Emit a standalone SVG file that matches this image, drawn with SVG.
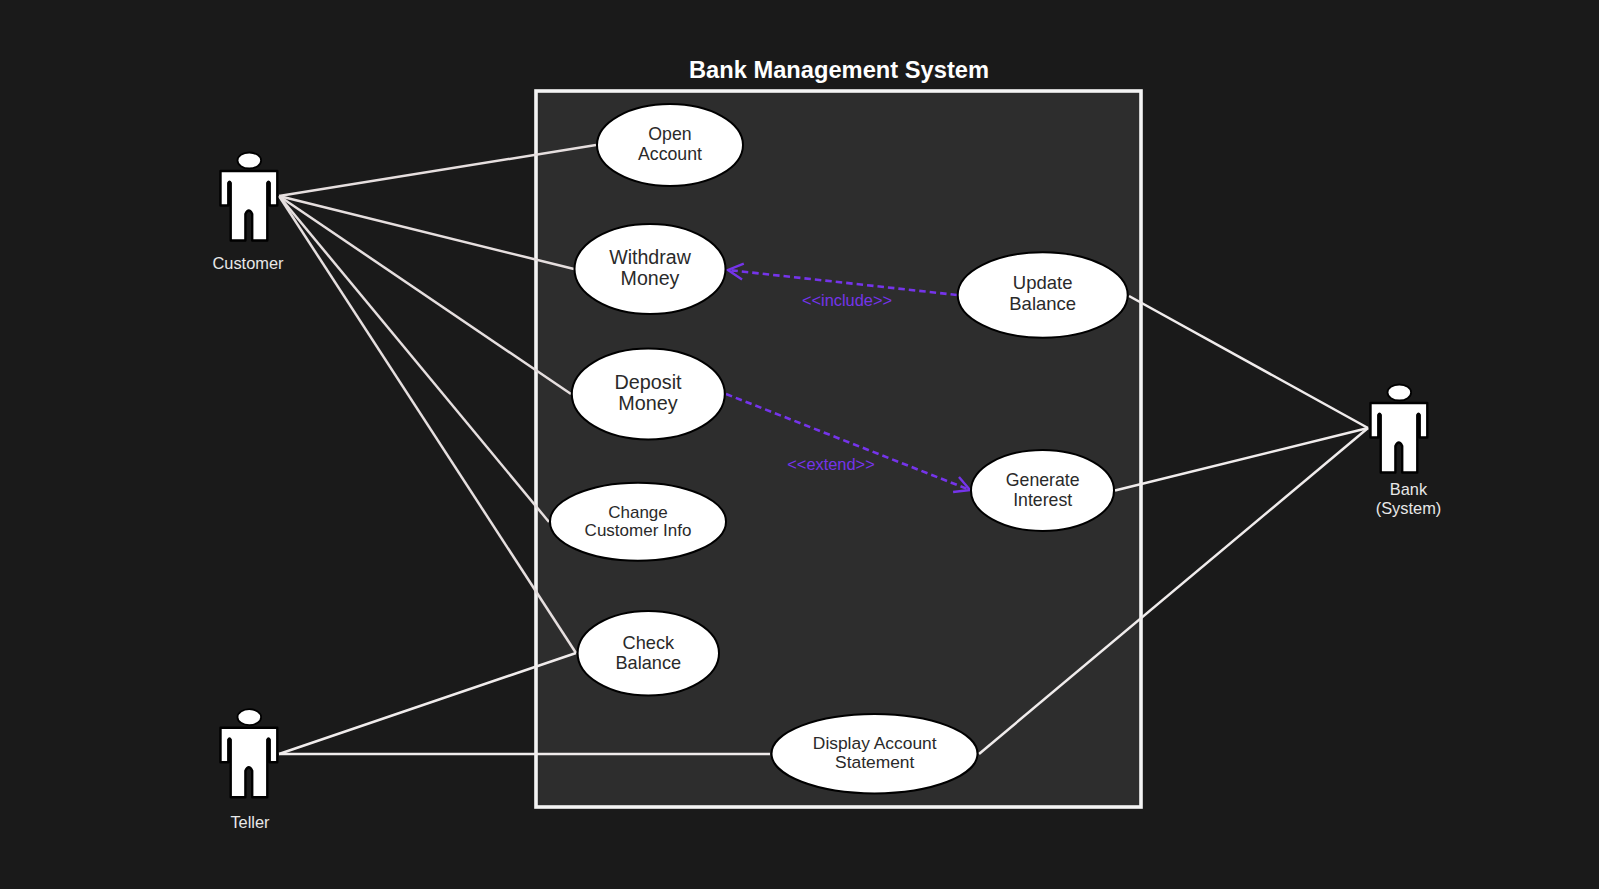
<svg xmlns="http://www.w3.org/2000/svg" xmlns:xlink="http://www.w3.org/1999/xlink" width="1599" height="889" viewBox="0 0 1599 889">
<style>
text{font-family:"Liberation Sans",Arial,sans-serif;text-anchor:middle}
.uc ellipse{fill:#fff;stroke:#000;stroke-width:2}
.uc text{fill:#2a2a2a}
.actor-label{fill:#e8e8e8;font-size:16.4px}
.assoc{stroke:#f0ecec;stroke-width:2.5;fill:none}
.assoc.c{stroke:#e6dfdf}
.dep{stroke:#7534ea;stroke-width:2.6;stroke-dasharray:6.5 4;fill:none}
.dep-label{fill:#7534ea;font-size:16.4px}
</style>
<defs>
<marker id="open" markerUnits="userSpaceOnUse" markerWidth="24" markerHeight="24" refX="18" refY="12" orient="auto-start-reverse" overflow="visible">
<path d="M3,4 L18,12 L3,20" fill="none" stroke="#7534ea" stroke-width="2.4"/>
</marker>
<g id="person">
<ellipse cx="249.3" cy="160.5" rx="11.8" ry="8" fill="#fff" stroke="#000" stroke-width="1.8"/>
<path d="M220.5,171 H277.3 V205.5 H269.7 V183 Q268.5,180.5 267.3,183 V240.5 H252.2 V214 Q248.8,207 245.4,214 V240.5 H230.7 V183 Q229.5,180.5 228.3,183 V205.5 H220.5 Z" fill="#fff" stroke="#000" stroke-width="2.4" stroke-linejoin="round"/>
</g>
</defs>
<rect width="1599" height="889" fill="#1a1a1a"/>
<rect id="boundary" x="536" y="91" width="605" height="716" fill="#2d2d2d" stroke="#f4f4f4" stroke-width="3.6"/>
<text id="title" x="839" y="78" font-size="23.7" font-weight="bold" fill="#fff">Bank Management System</text>
<g id="connectors">
<line class="assoc c" x1="279" y1="196" x2="596" y2="145"/>
<line class="assoc c" x1="279" y1="196" x2="574" y2="269"/>
<line class="assoc c" x1="279" y1="196" x2="571" y2="394"/>
<line class="assoc c" x1="279" y1="196" x2="549" y2="522"/>
<line class="assoc c" x1="279" y1="196" x2="576" y2="653"/>
<line class="assoc" x1="279" y1="754" x2="576" y2="653"/>
<line class="assoc" x1="279" y1="754" x2="770" y2="754"/>
<line class="assoc" x1="1368" y1="428" x2="1129" y2="296"/>
<line class="assoc" x1="1368" y1="428" x2="1115" y2="490.5"/>
<line class="assoc" x1="1368" y1="428" x2="979" y2="754"/>
<line class="dep" x1="957" y1="295" x2="728" y2="270" marker-end="url(#open)"/>
<line class="dep" x1="726" y1="394" x2="970" y2="490" marker-end="url(#open)"/>
<text class="dep-label" x="847" y="305.8">&lt;&lt;include&gt;&gt;</text>
<text class="dep-label" x="831" y="470">&lt;&lt;extend&gt;&gt;</text>
</g>
<g id="actor-customer"><use href="#person"/><text class="actor-label" x="248" y="269">Customer</text></g>
<g id="actor-teller"><use href="#person" y="556.7"/><text class="actor-label" x="250" y="828">Teller</text></g>
<g id="actor-bank"><use href="#person" x="1150" y="232"/><text class="actor-label" x="1408.5" y="495">Bank</text><text class="actor-label" x="1408.5" y="513.5">(System)</text></g>
<g id="uc-open" class="uc"><ellipse cx="670" cy="145" rx="73" ry="41"/><text x="670" y="140" font-size="17.7">Open</text><text x="670" y="160" font-size="17.7">Account</text></g>
<g id="uc-withdraw" class="uc"><ellipse cx="650" cy="269" rx="75.5" ry="45"/><text x="650" y="264" font-size="19.6">Withdraw</text><text x="650" y="285" font-size="19.6">Money</text></g>
<g id="uc-deposit" class="uc"><ellipse cx="648.3" cy="394" rx="76.5" ry="45.5"/><text x="648" y="388.5" font-size="19.8">Deposit</text><text x="648" y="409.5" font-size="19.8">Money</text></g>
<g id="uc-change" class="uc"><ellipse cx="638" cy="521.7" rx="88" ry="39"/><text x="638" y="517.8" font-size="17">Change</text><text x="638" y="535.5" font-size="17">Customer Info</text></g>
<g id="uc-check" class="uc"><ellipse cx="648.3" cy="653.3" rx="70.7" ry="42.3"/><text x="648.3" y="648.6" font-size="18.2">Check</text><text x="648.3" y="668.6" font-size="18.2">Balance</text></g>
<g id="uc-display" class="uc"><ellipse cx="874.5" cy="753.7" rx="103" ry="39.7"/><text x="874.7" y="748.8" font-size="17.4">Display Account</text><text x="874.7" y="767.8" font-size="17.4">Statement</text></g>
<g id="uc-update" class="uc"><ellipse cx="1042.7" cy="295" rx="85" ry="42.7"/><text x="1042.7" y="289.3" font-size="18.5">Update</text><text x="1042.7" y="310" font-size="18.5">Balance</text></g>
<g id="uc-generate" class="uc"><ellipse cx="1042.5" cy="490.5" rx="71.5" ry="40.5"/><text x="1042.7" y="485.8" font-size="17.7">Generate</text><text x="1042.7" y="505.8" font-size="17.7">Interest</text></g>
</svg>
